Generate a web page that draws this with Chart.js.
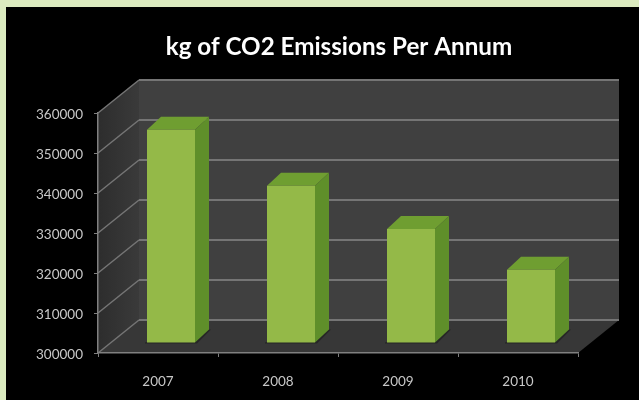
<!DOCTYPE html>
<html>
<head>
<meta charset="utf-8">
<title>kg of CO2 Emissions Per Annum</title>
<script src="https://cdn.jsdelivr.net/npm/chart.js@4/dist/chart.umd.min.js"></script>
<style>
	html, body { margin: 0; height: 100%; overflow: hidden; background: #dcebc0; }
	#chart { position: absolute; left: 6px; top: 7px; background: #000; }
</style>
</head>
<body>
<canvas id="chart" width="638" height="393"></canvas>
<script>
const years = ['2007', '2008', '2009', '2010'];
const emissions = [353300, 339300, 328500, 318300];
const axisMin = 300000;
const axisMax = 360000;
const axisStep = 10000;

// Depth of the box behind the axes, and of each bar within it
const WALL_DX = 41;
const WALL_DY = -33;
const BAR_SHIFT_X = 13;
const BAR_SHIFT_Y = -10;
const BAR_DX = 14;
const BAR_DY = -13;

function fillPoly(ctx, points, fill) {
	ctx.beginPath();
	points.forEach(([x, y], i) => (i ? ctx.lineTo(x, y) : ctx.moveTo(x, y)));
	ctx.closePath();
	ctx.fillStyle = fill;
	ctx.fill();
}

function strokeLine(ctx, x1, y1, x2, y2, color, width) {
	ctx.beginPath();
	ctx.moveTo(x1, y1);
	ctx.lineTo(x2, y2);
	ctx.strokeStyle = color;
	ctx.lineWidth = width;
	ctx.stroke();
}

const boxWalls = {
	id: 'boxWalls',
	beforeDraw(chart) {
		const { ctx, chartArea: a, scales } = chart;
		const backL = a.left + WALL_DX;
		const backR = a.right + WALL_DX;
		ctx.save();

		const side = ctx.createLinearGradient(a.left, 0, backL, 0);
		side.addColorStop(0, '#2d2d2d');
		side.addColorStop(1, '#3a3a3a');
		fillPoly(ctx, [[a.left, a.top], [backL, a.top + WALL_DY], [backL, a.bottom + WALL_DY], [a.left, a.bottom]], side);
		fillPoly(ctx, [[backL, a.top + WALL_DY], [backR, a.top + WALL_DY], [backR, a.bottom + WALL_DY], [backL, a.bottom + WALL_DY]], '#404040');
		fillPoly(ctx, [[a.left, a.bottom], [backL, a.bottom + WALL_DY], [backR, a.bottom + WALL_DY], [a.right, a.bottom]], '#373737');

		scales.y.ticks.forEach((tick) => {
			const y = scales.y.getPixelForValue(tick.value);
			strokeLine(ctx, a.left, y, backL, y + WALL_DY, '#757575', 1.5);
			strokeLine(ctx, backL, y + WALL_DY, backR, y + WALL_DY, '#757575', 2);
		});
		ctx.restore();
	},
};

const barDepth = {
	id: 'barDepth',
	beforeDatasetsDraw(chart) {
		const { ctx } = chart;
		ctx.save();
		ctx.translate(BAR_SHIFT_X, BAR_SHIFT_Y);
		chart.getDatasetMeta(0).data.forEach((bar) => {
			const left = bar.x - bar.width / 2;
			const right = bar.x + bar.width / 2;
			// contact shadow on the floor
			fillPoly(ctx, [[left - 2, bar.base + 1], [right + 2, bar.base + 1], [right + BAR_DX + 2, bar.base + BAR_DY], [right, bar.base + BAR_DY], [left - 2, bar.base]], '#262626');
			fillPoly(ctx, [[left, bar.y], [left + BAR_DX, bar.y + BAR_DY], [right + BAR_DX, bar.y + BAR_DY], [right, bar.y]], '#6f9e31');
			fillPoly(ctx, [[right, bar.y], [right + BAR_DX, bar.y + BAR_DY], [right + BAR_DX, bar.base + BAR_DY], [right, bar.base]], '#5f8f2a');
		});
	},
	afterDatasetsDraw(chart) {
		chart.ctx.restore();
	},
};

new Chart(document.getElementById('chart'), {
	type: 'bar',
	data: {
		labels: years,
		datasets: [
			{
				data: emissions,
				base: axisMin,
				backgroundColor: '#94b948',
				categoryPercentage: 1,
				barPercentage: 0.4,
				clip: false,
			},
		],
	},
	options: {
		responsive: false,
		animation: false,
		events: [],
		layout: { padding: { left: 28, right: 0, top: 0, bottom: 0 } },
		scales: {
			x: {
				afterFit: (scale) => { scale.height = 47; },
				grid: { drawOnChartArea: false, tickLength: 4, tickColor: '#808080', offset: true },
				border: { color: '#808080', width: 1.5 },
				ticks: { color: '#c8c8c8', padding: 17, font: { family: 'Lato', size: 13.5 } },
			},
			y: {
				min: axisMin,
				max: axisMax,
				afterFit: (scale) => { scale.width = 64; },
				grid: { drawOnChartArea: false, tickLength: 4, tickColor: '#808080' },
				border: { color: '#808080', width: 1.5 },
				ticks: {
					stepSize: axisStep,
					color: '#c8c8c8',
					padding: 11,
					labelOffset: 2,
					font: { family: 'Lato', size: 13.5 },
					callback: (value) => String(value),
				},
			},
			// empty axis that holds the margin to the right of the plot
			yRight: {
				position: 'right',
				afterFit: (scale) => { scale.width = 66; },
				grid: { display: false },
				border: { display: false },
				ticks: { display: false },
			},
		},
		plugins: {
			legend: { display: false },
			tooltip: { enabled: false },
			title: {
				display: true,
				text: 'kg of CO2 Emissions Per Annum',
				color: '#ffffff',
				font: { family: 'Lato', size: 24.2, weight: 'bold' },
				padding: { top: 26, bottom: 51 },
			},
		},
	},
	plugins: [boxWalls, barDepth],
});
</script>
</body>
</html>
